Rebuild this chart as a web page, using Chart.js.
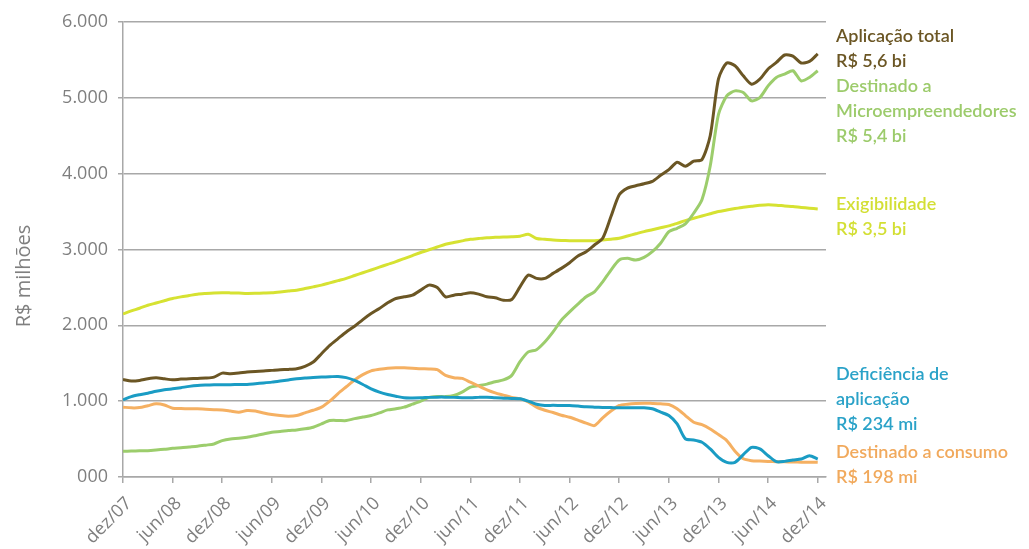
<!DOCTYPE html>
<html><head><meta charset="utf-8">
<script src="https://cdn.jsdelivr.net/npm/chart.js@4.4.0/dist/chart.umd.min.js"></script>
<style>
html,body{margin:0;padding:0;background:#fff;}
#wrap{position:relative;width:1029px;height:549px;overflow:hidden;}
#c{position:absolute;left:0;top:0;}
.note{position:absolute;left:836px;font-family:Lato,'Open Sans',sans-serif;font-weight:600;font-size:18px;line-height:25px;white-space:nowrap;}
#ytitle{position:absolute;left:-77px;top:264px;width:200px;text-align:center;font-family:'Open Sans',sans-serif;font-size:20px;color:#7f7f7f;transform:rotate(-90deg);line-height:24px;}
</style></head>
<body><div id="wrap">
<canvas id="c" width="1029" height="549"></canvas>
<div id="ytitle">R$ milhões</div>
<div class="note" style="top:23px;color:#6b5624">Aplicação total<br>R$ 5,6 bi</div>
<div class="note" style="top:73px;color:#9ccb6b">Destinado a<br>Microempreendedores<br>R$ 5,4 bi</div>
<div class="note" style="top:191px;color:#d3df34">Exigibilidade<br>R$ 3,5 bi</div>
<div class="note" style="top:361px;color:#2aa2c8">Deficiência de<br>aplicação<br>R$ 234 mi</div>
<div class="note" style="top:439px;color:#f1a95c">Destinado a consumo<br>R$ 198 mi</div>
</div>
<script>
const xTickLabels = ['dez/07','jun/08','dez/08','jun/09','dez/09','jun/10','dez/10','jun/11','dez/11','jun/12','dez/12','jun/13','dez/13','jun/14','dez/14'];
const yTickLabels = ['000','1.000','2.000','3.000','4.000','5.000','6.000'];
const seriesNames = ['Aplicação total','Deficiência de aplicação','Destinado a consumo','Destinado a Microempreendedores','Exigibilidade'];

const aplicacaoTotal = [1287,1265,1273,1295,1308,1295,1282,1291,1295,1300,1304,1317,1370,1362,1370,1384,1392,1397,1406,1415,1419,1428,1459,1516,1626,1736,1825,1913,1988,2076,2155,2222,2297,2354,2376,2398,2464,2530,2500,2376,2398,2411,2429,2411,2376,2363,2332,2341,2508,2663,2619,2619,2685,2751,2826,2914,2971,3059,3148,3434,3722,3810,3841,3867,3898,3978,4053,4150,4097,4164,4186,4500,5250,5459,5423,5290,5180,5246,5380,5467,5565,5550,5460,5480,5580];
const microempreendedores = [339,342,345,347,355,365,378,385,395,405,420,436,480,502,510,524,545,568,590,600,612,621,635,656,700,744,746,744,770,790,810,845,885,900,921,960,1000,1050,1062,1060,1075,1120,1185,1205,1225,1255,1280,1340,1520,1650,1679,1780,1913,2067,2177,2279,2376,2442,2574,2729,2861,2883,2861,2896,2971,3082,3236,3280,3337,3478,3655,4100,4782,5025,5092,5070,4960,5003,5158,5269,5313,5357,5224,5269,5357];
const exigibilidade = [2150,2190,2225,2265,2295,2325,2354,2375,2393,2411,2420,2427,2430,2428,2425,2420,2422,2426,2430,2440,2452,2464,2485,2507,2530,2560,2590,2620,2657,2694,2730,2767,2804,2840,2880,2920,2960,2997,3033,3070,3092,3114,3134,3145,3155,3160,3165,3168,3175,3200,3145,3135,3125,3120,3117,3115,3115,3117,3125,3135,3148,3178,3207,3236,3261,3286,3311,3345,3380,3412,3442,3472,3500,3520,3540,3558,3570,3582,3590,3585,3575,3567,3555,3545,3535];
const deficiencia = [1018,1060,1085,1105,1130,1150,1163,1178,1195,1207,1212,1215,1216,1218,1220,1220,1230,1240,1251,1265,1280,1295,1305,1312,1318,1322,1326,1310,1273,1220,1163,1120,1088,1065,1044,1042,1044,1050,1053,1053,1050,1046,1044,1050,1053,1045,1040,1035,1031,1000,960,943,945,943,943,935,925,921,918,915,912,912,912,912,899,855,810,700,502,489,459,370,259,193,193,295,391,370,281,202,206,224,237,281,237];
const consumo = [921,912,915,940,965,950,907,903,900,899,893,888,885,870,854,877,870,845,824,810,802,810,846,880,921,1000,1100,1190,1280,1350,1400,1420,1435,1441,1440,1435,1428,1425,1415,1340,1310,1300,1250,1200,1150,1110,1080,1050,1031,990,921,880,850,815,788,750,710,678,780,870,943,960,970,974,970,965,956,900,810,722,690,634,560,480,340,240,215,210,205,202,200,198,196,195,193];

const toXY = arr => arr.map((v,i)=>({x:i,y:v}));
const grid = '#a8a8a8';
Chart.defaults.font.family = "'Open Sans', sans-serif";

new Chart(document.getElementById('c'), {
  type:'line',
  data:{datasets:[
    {label:seriesNames[0],data:toXY(aplicacaoTotal),borderColor:'#6b5624'},
    {label:seriesNames[1],data:toXY(deficiencia),borderColor:'#1a9cc4'},
    {label:seriesNames[2],data:toXY(consumo),borderColor:'#f5b062'},
    {label:seriesNames[3],data:toXY(microempreendedores),borderColor:'#9ccd6c'},
    {label:seriesNames[4],data:toXY(exigibilidade),borderColor:'#d6e232'}
  ]},
  options:{
    responsive:false,animation:false,
    layout:{padding:{top:22,right:203,left:0,bottom:0}},
    elements:{line:{borderWidth:3,tension:0.25,fill:false},point:{radius:0}},
    plugins:{legend:{display:false},tooltip:{enabled:false}},
    scales:{
      x:{type:'linear',min:0,max:85,
        afterBuildTicks:s=>{s.ticks=xTickLabels.map((_,i)=>({value:i*6}));},
        afterFit:s=>{s.height=72;},
        ticks:{callback:v=>xTickLabels[v/6],minRotation:45,maxRotation:45,color:'#7f7f7f',font:{size:18},padding:10,labelOffset:6,autoSkip:false},
        grid:{drawOnChartArea:false,drawTicks:true,tickLength:6,color:grid,lineWidth:1.5},
        border:{display:true,color:grid,width:1.5}
      },
      y:{min:0,max:6000,
        afterFit:s=>{s.width=123;},
        ticks:{stepSize:1000,callback:v=>yTickLabels[v/1000],color:'#7f7f7f',font:{size:18},padding:10},
        grid:{color:grid,lineWidth:1.5,tickLength:5},
        border:{display:true,color:grid,width:1.5}
      }
    }
  }
});
</script>
</body></html>
